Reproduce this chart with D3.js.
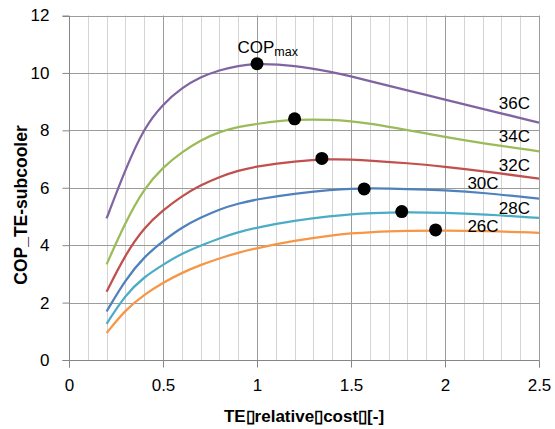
<!DOCTYPE html>
<html>
<head>
<meta charset="utf-8">
<script src="https://cdn.jsdelivr.net/npm/d3@7"></script>
<style>
body{margin:0;background:#fff;}
svg text{font-family:"Liberation Sans",Arial,sans-serif;fill:#000;}
</style>
</head>
<body>
<div id="chart"></div>
<script>
// data
var xs=[0.2,0.3,0.4,0.5,0.6,0.7,0.8,0.9,1.0,1.2,1.4,1.5,1.6,1.8,2.0,2.2,2.5];
var cop36=[4.93,6.65,8.1,8.92,9.48,9.86,10.1,10.25,10.33,10.27,10.03,9.88,9.71,9.39,9.07,8.75,8.27];
var cop34=[3.33,4.8,5.98,6.72,7.24,7.66,7.95,8.12,8.23,8.39,8.37,8.32,8.24,8.01,7.77,7.55,7.27];
var cop32=[2.38,3.68,4.62,5.22,5.71,6.09,6.38,6.6,6.75,6.93,7.0,6.98,6.95,6.86,6.73,6.58,6.32];
var cop30=[1.69,2.8,3.6,4.14,4.62,4.96,5.25,5.45,5.6,5.8,5.93,5.97,5.98,5.96,5.91,5.83,5.62];
var cop28=[1.26,2.27,2.9,3.32,3.71,3.98,4.24,4.45,4.62,4.86,5.02,5.08,5.12,5.15,5.13,5.08,4.95];
var cop26=[0.94,1.75,2.28,2.69,3.04,3.31,3.54,3.74,3.9,4.16,4.34,4.41,4.46,4.5,4.51,4.5,4.43];
var seriesNames=["36C","34C","32C","30C","28C","26C"];
var maxX=[1.0,1.2,1.345,1.57,1.77,1.95];
var maxY=[10.32,8.4,7.02,5.96,5.17,4.53];
var xTicks=[0,0.5,1,1.5,2,2.5];
var yTicks=[0,2,4,6,8,10,12];

var colors=["#8064A2","#9BBB59","#C0504D","#4F81BD","#4BACC6","#F79646"];
var allSeries=[cop36,cop34,cop32,cop30,cop28,cop26];
// label anchor (data units): end x, baseline y
var labelX=[2.452,2.452,2.452,2.285,2.452,2.285];
var labelY=[8.75,7.59,6.58,5.94,5.1,4.46];

var W=555,H=429;
var pLeft=69,pRight=539,pTop=15.5,pBottom=360;
var majorColor="#9c9c9c",minorColor="#d4d4d4",axisColor="#868686";

var mySvg=d3.select("#chart").append("svg").attr("width",W).attr("height",H);

var x=d3.scaleLinear().domain([0,2.5]).range([pLeft,pRight]);
var y=d3.scaleLinear().domain([0,12]).range([pBottom,pTop]);

//grid
var minor=d3.range(1,25).filter(function(i){return i%5!=0;}).map(function(i){return i/10;});
mySvg.append("g").selectAll("line").data(minor).enter().append("line")
    .attr("x1",function(d){return Math.round(x(d))+0.5;}).attr("x2",function(d){return Math.round(x(d))+0.5;})
    .attr("y1",y(12)).attr("y2",y(0))
    .attr("style","stroke:"+minorColor+";stroke-width:1px");
mySvg.append("g").selectAll("line").data(xTicks.slice(1)).enter().append("line")
    .attr("x1",function(d){return Math.round(x(d))+0.5;}).attr("x2",function(d){return Math.round(x(d))+0.5;})
    .attr("y1",y(12)).attr("y2",y(0))
    .attr("style","stroke:"+majorColor+";stroke-width:1px");
mySvg.append("g").selectAll("line").data(yTicks.slice(1)).enter().append("line")
    .attr("x1",x(0)).attr("x2",x(2.5))
    .attr("y1",function(d){return Math.round(y(d))+0.5;}).attr("y2",function(d){return Math.round(y(d))+0.5;})
    .attr("style","stroke:"+majorColor+";stroke-width:1px");

//axes
var xAxis=d3.axisBottom(x).tickValues(xTicks).tickSize(7).tickPadding(11)
    .tickFormat(function(d){return d;});
var yAxis=d3.axisLeft(y).tickValues(yTicks).tickSize(7).tickPadding(13);
var gx=mySvg.append("g").attr("transform","translate(0,"+(Math.round(y(0))+0.5)+")").call(xAxis);
var gy=mySvg.append("g").attr("transform","translate("+(Math.round(x(0))+0.5)+",0)").call(yAxis);
[gx,gy].forEach(function(g){
    g.select(".domain").attr("stroke",axisColor);
    g.selectAll(".tick line").attr("stroke",axisColor);
    g.selectAll(".tick text").attr("font-size","17px").attr("font-family","\"Liberation Sans\",Arial,sans-serif").attr("fill","#000");
});
gy.select(".domain").attr("d","M-7,"+(Math.round(y(12))+0.5)+"H0V"+(Math.round(y(0))+0.5)+"H-7");
gx.select(".domain").attr("d","M"+(Math.round(x(0))+0.5)+",7V0H"+(Math.round(x(2.5))+0.5)+"V7");

//curves
var line=d3.line().x(function(d){return x(d[0]);}).y(function(d){return y(d[1]);})
    .curve(d3.curveBasis);
allSeries.forEach(function(s,i){
    mySvg.append("path").datum(xs.map(function(v,j){return [v,s[j]];}))
        .attr("d",line).attr("fill","none")
        .attr("style","stroke:"+colors[i]+";stroke-width:2.25px;stroke-linejoin:round");
});

//series labels
mySvg.append("g").selectAll("text").data(seriesNames).enter().append("text")
    .attr("x",function(d,i){return x(labelX[i]);})
    .attr("y",function(d,i){return y(labelY[i]);})
    .attr("text-anchor","end").attr("font-size","17px")
    .text(function(d){return d;});

//max points
mySvg.append("g").selectAll("circle").data(maxX).enter().append("circle")
    .attr("cx",function(d){return x(d);})
    .attr("cy",function(d,i){return y(maxY[i]);})
    .attr("r",6.5).style("fill","#000").style("stroke","none");

var lbl=mySvg.append("text").attr("x",x(maxX[0])-19.5).attr("y",y(maxY[0])-11).attr("font-size","17px");
lbl.append("tspan").text("COP");
lbl.append("tspan").attr("font-size","12.5px").attr("dy",3).text("max");

//axis titles
mySvg.append("text").attr("x",(pLeft+pRight)/2).attr("y",422)
    .attr("text-anchor","middle").attr("font-size","17px").attr("font-weight","bold")
    .text("TE\u25AFrelative\u25AFcost\u25AF[-]");
mySvg.append("text").attr("transform","translate(27,205) rotate(-90)")
    .attr("text-anchor","middle").attr("font-size","17.5px").attr("font-weight","bold")
    .text("COP_TE-subcooler");
</script>
</body>
</html>
